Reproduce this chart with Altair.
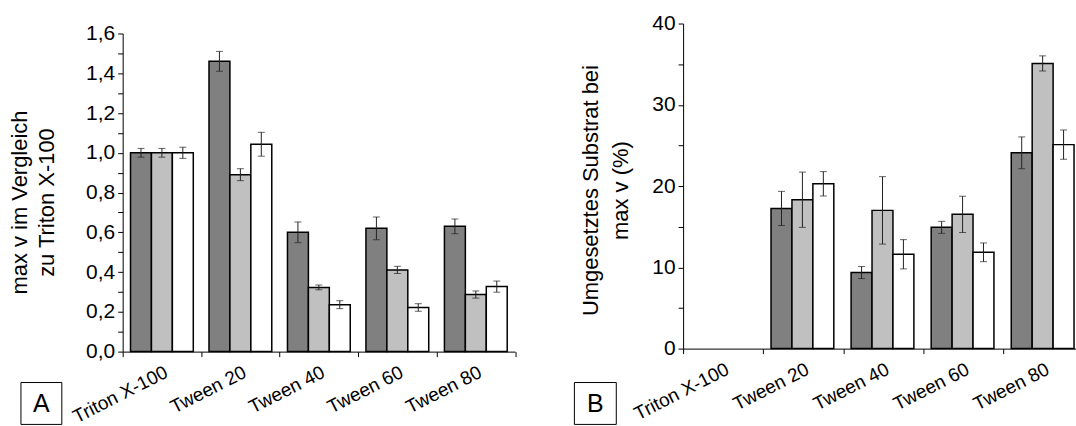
import altair as alt
import pandas as pd

FONT = "Liberation Sans"

categories = ["Triton X-100", "Tween 20", "Tween 40", "Tween 60", "Tween 80"]
series = ["Reihe 1", "Reihe 2", "Reihe 3"]
colors = ["#808080", "#c0c0c0", "#ffffff"]

# Panel A: max v relative to Triton X-100
a_s1 = [1.00, 1.46, 0.60, 0.62, 0.63]
a_s1_err = [0.022, 0.050, 0.052, 0.057, 0.037]
a_s2 = [1.00, 0.89, 0.323, 0.411, 0.287]
a_s2_err = [0.022, 0.030, 0.012, 0.018, 0.018]
a_s3 = [1.00, 1.043, 0.236, 0.222, 0.327]
a_s3_err = [0.028, 0.060, 0.020, 0.019, 0.028]

# Panel B: converted substrate at max v (%)
b_s1 = [None, 17.25, 9.36, 14.92, 24.09]
b_s1_err = [None, 2.1, 0.74, 0.74, 1.96]
b_s2 = [None, 18.32, 17.01, 16.52, 35.09]
b_s2_err = [None, 3.4, 4.15, 2.23, 0.93]
b_s3 = [None, 20.28, 11.61, 11.85, 25.10]
b_s3_err = [None, 1.5, 1.8, 1.15, 1.8]

a_ticks = [0, 0.1, 0.2, 0.3, 0.4, 0.5, 0.6, 0.7, 0.8, 0.9, 1.0, 1.1, 1.2, 1.3, 1.4, 1.5, 1.6]
b_ticks = [0, 5, 10, 15, 20, 25, 30, 35, 40]


def make_df(vals, errs):
    rows = []
    for s, vl, el in zip(series, vals, errs):
        for c, v, e in zip(categories, vl, el):
            if v is None:
                continue
            rows.append({"cat": c, "serie": s, "val": v, "lo": v - e, "hi": v + e})
    return pd.DataFrame(rows)


df_a = make_df([a_s1, a_s2, a_s3], [a_s1_err, a_s2_err, a_s3_err])
df_b = make_df([b_s1, b_s2, b_s3], [b_s1_err, b_s2_err, b_s3_err])


def panel(df, width, height, ymax, yvalues, label_expr, title, title_x, title_y,
          title_lh, letter, box):
    xscale = alt.Scale(domain=categories, paddingInner=0, paddingOuter=0)
    xaxis = alt.Axis(
        title=None, labelAngle=333, labelAlign="right", labelBaseline="top",
        labelFontSize=19, labelPadding=6, tickBand="extent", tickSize=5,
        labelColor="black", domainColor="black", tickColor="black",
        labelFont=FONT, labelOverlap=False, labelBound=False,
    )
    xoff = alt.XOffset("serie:N", scale=alt.Scale(domain=series, paddingInner=0, paddingOuter=0.375))
    yscale = alt.Scale(domain=[0, ymax], nice=False, zero=True)
    yaxis = alt.Axis(
        values=yvalues, labelExpr=label_expr, title=title, titleX=title_x, titleY=title_y,
        titleBaseline="bottom", titleLineHeight=title_lh, titleAngle=270,
        titleFontSize=22, titleFontWeight="normal",
        titleFont=FONT, titleColor="black", labelFont=FONT, labelFontSize=21,
        labelColor="black", labelPadding=3, tickSize=5, tickColor="black",
        domainColor="black", grid=False, labelFlush=False, labelOverlap=False,
        labelBound=False,
    )
    xenc = alt.X("cat:N", scale=xscale, axis=xaxis)
    bars = alt.Chart(df).mark_bar(stroke="black", strokeWidth=1.5).encode(
        x=xenc,
        xOffset=xoff,
        y=alt.Y("val:Q", scale=yscale, axis=yaxis),
        fill=alt.Fill("serie:N", scale=alt.Scale(domain=series, range=colors), legend=None),
    )
    rules = alt.Chart(df).mark_rule(color="#222222", strokeWidth=1).encode(
        x=xenc, xOffset=xoff, y=alt.Y("lo:Q", scale=yscale, axis=yaxis), y2="hi:Q"
    )
    cap_lo = alt.Chart(df).mark_tick(color="#222222", thickness=1, size=7, orient="horizontal").encode(
        x=xenc, xOffset=xoff, y=alt.Y("lo:Q", scale=yscale, axis=yaxis)
    )
    cap_hi = alt.Chart(df).mark_tick(color="#222222", thickness=1, size=7, orient="horizontal").encode(
        x=xenc, xOffset=xoff, y=alt.Y("hi:Q", scale=yscale, axis=yaxis)
    )
    one = alt.Data(values=[{"t": letter}])
    x0, x1, y0, y1 = box
    rect = alt.Chart(one).mark_rect(fill="white", stroke="black", strokeWidth=1).encode(
        x=alt.value(x0), x2=alt.value(x1), y=alt.value(y0), y2=alt.value(y1)
    )
    txt = alt.Chart(one).mark_text(fontSize=25, font=FONT, color="black", align="center",
                                   baseline="middle").encode(
        x=alt.value((x0 + x1) / 2), y=alt.value((y0 + y1) / 2 + 1), text="t:N"
    )
    return alt.layer(bars, rules, cap_lo, cap_hi, rect, txt).properties(
        width=width, height=height
    )


label_a = "round(datum.value*10) % 2 == 0 ? replace(format(datum.value, '.1f'), '.', ',') : ''"
label_b = "datum.value % 10 == 0 ? format(datum.value, 'd') : ''"

pa = panel(df_a, 393.5, 319, 1.6, a_ticks, label_a,
           ["max v im Vergleich", "zu Triton X-100"], -91, 169, 27, "A",
           (-102, -61, 350, 392))
pb = panel(df_b, 401.5, 326, 40, b_ticks, label_b,
           ["Umgesetztes Substrat bei", "max v (%)"], -81, 167, 30, "B",
           (-109, -67, 360, 402))

# invisible 1px spacer that pushes panel A 10 px below panel B
spacer = alt.Chart(alt.Data(values=[{"t": ""}])).mark_rule(opacity=0).encode(
    x=alt.value(0), y=alt.value(0), y2=alt.value(1)
).properties(width=1, height=1)

left = alt.vconcat(spacer, pa, spacing=9, bounds="flush")

chart = alt.hconcat(left, pb, spacing=57).configure(
    font=FONT
).configure_view(stroke=None).properties(
    padding={"left": 9, "top": 12, "right": -9, "bottom": -2}
)

chart.save("out.html", embed_options={"renderer": "svg", "actions": False})
